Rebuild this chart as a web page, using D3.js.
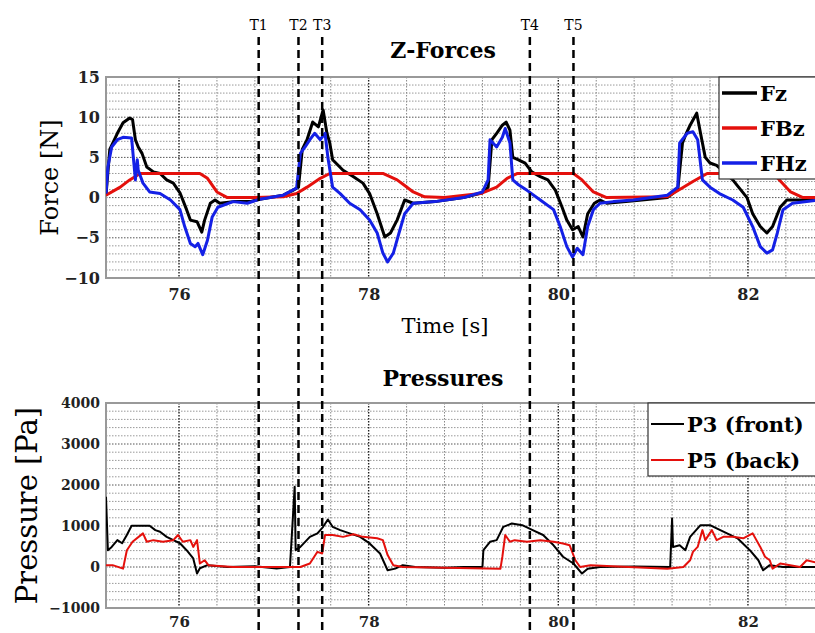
<!DOCTYPE html>
<html>
<head>
<meta charset="utf-8">
<script src="https://cdn.jsdelivr.net/npm/d3@7"></script>
<style>
  body { margin: 0; background: #fff; }
  svg { display: block; font-family: 'DejaVu Serif', serif; }
</style>
</head>
<body>
<svg id="chart" width="815" height="633"></svg>
<script>
// values: [time s, value]
const fzData = [[75.23,0.3],[75.27,6],[75.35,8],[75.41,9.3],[75.48,9.9],[75.51,9.7],[75.54,7.2],[75.57,6.3],[75.61,5.5],[75.66,3.8],[75.73,3.2],[75.80,3],[75.87,2.2],[75.94,1.8],[76.01,0.6],[76.08,-1.5],[76.12,-2.8],[76.19,-3],[76.24,-4.3],[76.27,-2.8],[76.33,-0.7],[76.38,-0.3],[76.43,-0.7],[76.57,-0.5],[76.75,-0.5],[76.85,-0.2],[77.10,0.3],[77.20,0.9],[77.26,1.3],[77.30,6],[77.35,7.2],[77.41,9.4],[77.47,8.8],[77.52,10.9],[77.56,8],[77.59,6.8],[77.62,4.7],[77.73,3.4],[77.84,2.6],[77.94,1.8],[78.01,0.5],[78.09,-2],[78.17,-4.9],[78.23,-4.4],[78.30,-2.8],[78.38,-0.3],[78.47,-0.7],[78.70,-0.5],[79.00,0],[79.20,0.6],[79.26,1.3],[79.30,7.2],[79.35,8],[79.41,9],[79.45,9.4],[79.49,8.4],[79.52,5],[79.58,4.7],[79.65,4.3],[79.72,3.2],[79.81,2.6],[79.89,2.2],[79.97,0.9],[80.04,-1.2],[80.09,-2.8],[80.15,-4],[80.21,-3.6],[80.26,-4.9],[80.31,-2],[80.38,-0.7],[80.44,-0.3],[80.51,-0.7],[80.80,-0.4],[81.15,0],[81.26,1],[81.31,6.8],[81.35,8],[81.39,9],[81.46,10.5],[81.50,8],[81.55,5],[81.60,4.3],[81.67,4],[81.84,2.2],[81.99,0],[82.05,-2],[82.13,-3.6],[82.20,-4.4],[82.26,-3.6],[82.34,-1.2],[82.41,-0.3],[82.55,-0.3],[82.76,-0.3]];

const fbzData = [[75.23,0.3],[75.38,1.3],[75.48,2.2],[75.59,3],[76.22,3],[76.30,2.4],[76.40,0.7],[76.51,0],[76.75,0],[77.10,0.1],[77.24,0.5],[77.35,1.3],[77.49,2.4],[77.59,3],[78.15,3],[78.30,2.2],[78.38,1.5],[78.47,0.7],[78.59,0.1],[78.80,0],[79.18,0.5],[79.35,1.3],[79.46,2.4],[79.57,3],[80.16,3],[80.25,2.2],[80.37,0.7],[80.51,0],[81.15,0.1],[81.28,1],[81.42,2],[81.57,3],[82.22,3],[82.30,2.6],[82.45,0.7],[82.58,0],[82.76,0]];

const fhzData = [[75.23,0.5],[75.25,3.8],[75.29,6.3],[75.35,7.2],[75.41,7.5],[75.50,7.4],[75.54,2.2],[75.56,4.7],[75.57,3.4],[75.62,1.8],[75.69,0.7],[75.80,0.5],[75.91,-0.3],[76.01,-1.5],[76.06,-3.6],[76.12,-5.7],[76.17,-6.1],[76.20,-5.7],[76.25,-7.1],[76.30,-5.3],[76.35,-2.4],[76.41,-1.2],[76.57,-0.5],[76.72,-0.7],[76.85,-0.2],[77.10,0.3],[77.24,1.2],[77.28,5.5],[77.33,6.3],[77.38,7.2],[77.43,8],[77.49,7.2],[77.54,8],[77.57,5],[77.62,1.3],[77.70,0.5],[77.80,-0.7],[77.91,-1.5],[78.01,-2.8],[78.09,-4.4],[78.15,-6.9],[78.20,-8],[78.26,-6.9],[78.33,-4],[78.38,-2],[78.47,-0.7],[78.70,-0.5],[79.00,0],[79.20,0.7],[79.26,2.2],[79.28,7.2],[79.35,6.3],[79.41,7.5],[79.44,8.6],[79.49,6.8],[79.52,2.2],[79.58,1.6],[79.67,0.9],[79.81,-0.3],[79.95,-1.5],[80.02,-3.6],[80.09,-6.1],[80.15,-7.4],[80.20,-6.3],[80.26,-7.1],[80.31,-3.6],[80.37,-1.5],[80.44,-0.7],[80.58,-0.5],[80.79,-0.3],[81.15,0.3],[81.26,1.3],[81.28,6.8],[81.36,8],[81.42,8.2],[81.47,7.2],[81.52,2.2],[81.60,1.3],[81.70,0.5],[81.84,-0.3],[81.95,-1.2],[82.05,-3.6],[82.13,-6.1],[82.20,-6.9],[82.26,-6.5],[82.31,-4.4],[82.37,-1.5],[82.47,-0.7],[82.76,-0.3]];

const p3Data = [[75.23,1715],[75.25,410],[75.29,490],[75.35,655],[75.40,580],[75.45,780],[75.50,1005],[75.59,1005],[75.69,1005],[75.75,900],[75.80,860],[75.87,735],[75.94,655],[76.01,580],[76.08,410],[76.15,210],[76.19,-160],[76.22,-30],[76.30,45],[76.51,0],[76.80,20],[77.03,-35],[77.17,0],[77.22,1960],[77.23,410],[77.28,490],[77.38,735],[77.46,820],[77.52,980],[77.57,1160],[77.62,980],[77.70,900],[77.80,820],[77.91,735],[78.01,575],[78.12,330],[78.20,-80],[78.28,-40],[78.36,45],[78.49,0],[78.80,-20],[79.00,0],[79.20,0],[79.21,410],[79.28,615],[79.35,655],[79.42,980],[79.51,1060],[79.62,1020],[79.73,900],[79.84,780],[79.95,530],[80.05,250],[80.16,85],[80.25,-160],[80.31,-40],[80.44,0],[80.80,10],[81.18,0],[81.20,1185],[81.21,490],[81.28,530],[81.34,410],[81.39,735],[81.50,1020],[81.60,1020],[81.67,940],[81.78,820],[81.89,700],[82.02,410],[82.11,165],[82.16,-80],[82.23,45],[82.37,0],[82.76,0]];

const p5Data = [[75.23,45],[75.30,45],[75.41,-40],[75.45,410],[75.51,615],[75.62,820],[75.66,615],[75.73,655],[75.83,615],[75.94,655],[75.99,780],[76.04,615],[76.12,655],[76.15,490],[76.19,655],[76.22,85],[76.27,165],[76.31,45],[76.57,0],[77.28,0],[77.38,85],[77.46,370],[77.51,330],[77.54,780],[77.62,780],[77.73,735],[77.84,800],[77.94,735],[78.09,700],[78.15,655],[78.20,290],[78.26,45],[78.36,0],[79.39,-40],[79.41,250],[79.44,780],[79.49,615],[79.54,655],[79.67,615],[79.81,655],[79.95,615],[80.05,575],[80.12,530],[80.18,165],[80.23,0],[80.34,45],[81.15,-40],[81.32,0],[81.39,165],[81.42,370],[81.47,490],[81.52,900],[81.55,655],[81.62,900],[81.67,655],[81.74,735],[81.84,735],[81.95,700],[82.05,820],[82.13,490],[82.18,250],[82.23,165],[82.26,-40],[82.34,85],[82.55,0],[82.62,165],[82.76,85]];

const eventTimes = [76.84, 77.26, 77.51, 79.70, 80.16];
const eventLabels = ['T1', 'T2', 'T3', 'T4', 'T5'];
const timeTicks = [76, 78, 80, 82];
const forceTicks = [-10, -5, 0, 5, 10, 15];
const pressureTicks = [-1000, 0, 1000, 2000, 3000, 4000];
const timeDomain = [75.23, 82.76];

const svg = d3.select('#chart');
const W = 815, H = 633;
svg.append('rect').attr('width', W).attr('height', H).attr('fill', '#fff');

const x = d3.scaleLinear().domain(timeDomain).range([106, 820]);

function drawPanel(opts) {
  const y = d3.scaleLinear().domain(opts.yDomain).range([opts.bottom, opts.top]);
  const g = svg.append('g');
  const left = x.range()[0], right = x.range()[1];

  // grid, dotted like the matlab minor grid
  const minorY = d3.range(opts.yDomain[0], opts.yDomain[1] + opts.yMinor / 2, opts.yMinor);
  g.selectAll('.hgrid').data(minorY).enter().append('line')
    .attr('x1', left).attr('x2', right)
    .attr('y1', d => y(d)).attr('y2', d => y(d))
    .attr('stroke', d => opts.yTicks.includes(d) ? '#555' : '#999')
    .attr('stroke-width', 1)
    .attr('stroke-dasharray', '1.5,1.5');

  const isMajor = d => timeTicks.some(t => Math.abs(t - d) < 1e-6);
  const minorX = d3.range(0, 17).map(i => timeTicks[0] + i * 0.4);
  g.selectAll('.vgrid').data(minorX).enter().append('line')
    .attr('x1', d => x(d)).attr('x2', d => x(d))
    .attr('y1', opts.top).attr('y2', opts.bottom)
    .attr('stroke', d => isMajor(d) ? '#222' : '#888')
    .attr('stroke-width', d => isMajor(d) ? 1.4 : 1)
    .attr('stroke-dasharray', '1.5,1.5');

  // frame (right side runs off the page)
  g.append('path')
    .attr('d', `M${right},${opts.top}H${left}V${opts.bottom}H${right}`)
    .attr('fill', 'none').attr('stroke', '#999').attr('stroke-width', 2);

  // series
  const clipId = 'clip-' + opts.name;
  svg.append('clipPath').attr('id', clipId).append('rect')
    .attr('x', left).attr('y', opts.top).attr('width', right - left).attr('height', opts.bottom - opts.top);
  const line = d3.line().x(d => x(d[0])).y(d => y(d[1]));
  const lines = g.append('g').attr('clip-path', `url(#${clipId})`);
  opts.series.forEach(s => {
    lines.append('path').datum(s.values)
      .attr('d', line)
      .attr('fill', 'none')
      .attr('stroke', s.color)
      .attr('stroke-width', opts.lineWidth)
      .attr('stroke-linejoin', 'round');
  });

  // axes
  const yAxis = d3.axisLeft(y).tickValues(opts.yTicks).tickFormat(d3.format('d')).tickSize(0).tickPadding(6);
  g.append('g').attr('transform', `translate(${left},0)`).call(yAxis)
    .call(a => a.select('.domain').remove())
    .selectAll('text')
      .style('font-family', 'DejaVu Serif, serif')
      .style('font-weight', 'bold')
      .style('font-size', opts.tickSize + 'px')
      .attr('fill', '#222');

  const xAxis = d3.axisBottom(x).tickValues(timeTicks).tickSize(0).tickPadding(opts.xPad);
  g.append('g').attr('transform', `translate(0,${opts.bottom})`).call(xAxis)
    .call(a => a.select('.domain').remove())
    .selectAll('text')
      .style('font-family', 'DejaVu Serif, serif')
      .style('font-weight', 'bold')
      .style('font-size', opts.xTickSize + 'px')
      .attr('fill', '#222');

  // y label
  svg.append('text')
    .attr('transform', `translate(${opts.yLabelX},${(opts.top + opts.bottom) / 2}) rotate(-90)`)
    .attr('text-anchor', 'middle')
    .style('font-size', opts.yLabelSize + 'px')
    .text(opts.yLabel);

  // title
  svg.append('text')
    .attr('x', 443).attr('y', opts.titleY)
    .attr('text-anchor', 'middle')
    .style('font-weight', 'bold')
    .style('font-size', '22px')
    .text(opts.title);

  // legend
  const lg = opts.legend;
  svg.append('rect')
    .attr('x', lg.x).attr('y', opts.top).attr('width', 200).attr('height', lg.h)
    .attr('fill', '#fff').attr('stroke', '#333').attr('stroke-width', 1.2);
  opts.series.forEach((s, i) => {
    const cy = lg.y0 + i * lg.dy;
    svg.append('line')
      .attr('x1', lg.x + 3).attr('x2', lg.x + 3 + lg.len)
      .attr('y1', cy).attr('y2', cy)
      .attr('stroke', s.color).attr('stroke-width', lg.width);
    svg.append('text')
      .attr('x', lg.x + lg.len + 6).attr('y', cy + lg.fontSize * 0.36)
      .style('font-weight', 'bold')
      .style('font-size', lg.fontSize + 'px')
      .text(s.name);
  });
  return y;
}

drawPanel({
  name: 'force', top: 77, bottom: 278, yDomain: [-10, 15], yTicks: forceTicks, yMinor: 1,
  lineWidth: 3, tickSize: 16, xPad: 11, xTickSize: 16,
  yLabel: 'Force [N]', yLabelX: 58, yLabelSize: 24,
  title: 'Z-Forces', titleY: 58,
  series: [
    { name: 'Fz', values: fzData, color: '#000' },
    { name: 'FBz', values: fbzData, color: '#e4100c' },
    { name: 'FHz', values: fhzData, color: '#1420e6' }
  ],
  legend: { x: 719, h: 102, y0: 93, dy: 35, len: 35, width: 3.5, fontSize: 21 }
});

drawPanel({
  name: 'pressure', top: 403, bottom: 608, yDomain: [-1000, 4000], yTicks: pressureTicks, yMinor: 200,
  lineWidth: 2, tickSize: 14, xPad: 8, xTickSize: 15,
  yLabel: 'Pressure [Pa]', yLabelX: 37, yLabelSize: 29,
  title: 'Pressures', titleY: 386,
  series: [
    { name: 'P3 (front)', values: p3Data, color: '#000' },
    { name: 'P5 (back)', values: p5Data, color: '#e4100c' }
  ],
  legend: { x: 648, h: 73, y0: 424, dy: 36, len: 33, width: 2, fontSize: 21 }
});

// time axis label
svg.append('text')
  .attr('x', 445).attr('y', 333)
  .attr('text-anchor', 'middle')
  .style('font-size', '21px')
  .text('Time [s]');

// event markers
const events = svg.append('g');
events.selectAll('line').data(eventTimes).enter().append('line')
  .attr('x1', d => x(d)).attr('x2', d => x(d))
  .attr('y1', 37).attr('y2', H)
  .attr('stroke', '#000').attr('stroke-width', 2.5)
  .attr('stroke-dasharray', '8,5');
events.selectAll('text').data(eventTimes).enter().append('text')
  .attr('x', d => x(d)).attr('y', 30)
  .attr('text-anchor', 'middle')
  .style('font-size', '14px')
  .text((d, i) => eventLabels[i]);
</script>
</body>
</html>
